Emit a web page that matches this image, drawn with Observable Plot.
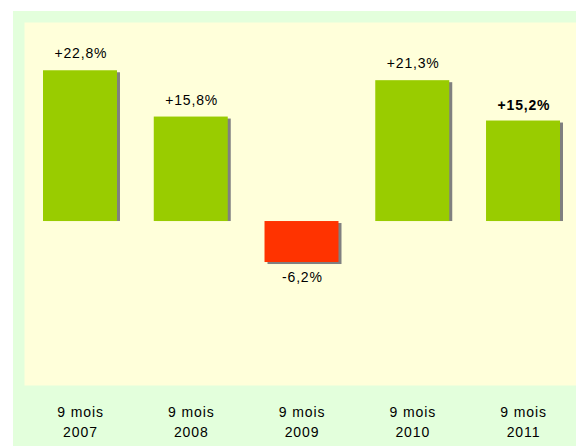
<!DOCTYPE html>
<html>
<head>
<meta charset="utf-8">
<script src="https://cdn.jsdelivr.net/npm/d3@7"></script>
<script src="https://cdn.jsdelivr.net/npm/@observablehq/plot@0.6"></script>
<style>
  html, body { margin: 0; padding: 0; background: #ffffff; width: 576px; height: 446px; overflow: hidden; }
  #chart svg { position: absolute; left: 13px; top: 11px; background: #E3FFDC; }
  #chart svg text { letter-spacing: 0.8px; }
  #chart svg [aria-label="x-axis tick label"] text { letter-spacing: 0.9px; }
</style>
</head>
<body>
<div id="chart"></div>
<script>
const periods = ["2007", "2008", "2009", "2010", "2011"];
const growth = [22.8, 15.8, -6.2, 21.3, 15.2];
const valueLabels = ["+22,8%", "+15,8%", "-6,2%", "+21,3%", "+15,2%"];
const tickLabels = ["9 mois\n2007", "9 mois\n2008", "9 mois\n2009", "9 mois\n2010", "9 mois\n2011"];
const highlighted = ["2011"];

const data = periods.map((p, i) => ({
  period: p,
  value: growth[i],
  label: valueLabels[i],
  bold: highlighted.includes(p)
}));
const pos = data.filter(d => d.value >= 0);
const neg = data.filter(d => d.value < 0);
const tickMap = new Map(periods.map((p, i) => [p, tickLabels[i]]));

const chart = Plot.plot({
  width: 563,
  height: 435,
  marginTop: 11,
  marginLeft: 11,
  marginRight: 0,
  marginBottom: 61,
  style: { fontFamily: "'Liberation Sans', Arial, sans-serif", background: "#E3FFDC", color: "#000" },
  x: { domain: periods, paddingInner: 0.332, paddingOuter: 0.158, align: 0.543, round: false, label: null },
  y: { domain: [-24.8, 30.1], axis: null },
  marks: [
    Plot.frame({ fill: "#FFFFDA", stroke: "none" }),
    Plot.rectY(pos, { x: "period", y: "value", fill: "#808080", dx: 3, dy: 2, insetBottom: 2 }),
    Plot.rectY(neg, { x: "period", y: "value", fill: "#808080", dx: 3, dy: 2 }),
    Plot.rectY(data, { x: "period", y: "value", fill: d => d.value >= 0 ? "#99CC00" : "#FF3300" }),
    Plot.text(pos.filter(d => !d.bold), { x: "period", y: "value", text: "label", lineAnchor: "bottom", dy: -12.5, dx: 0.4, fontSize: 14, fill: "#000" }),
    Plot.text(pos.filter(d => d.bold), { x: "period", y: "value", text: "label", lineAnchor: "bottom", dy: -11.5, dx: 0.4, fontSize: 14, fontWeight: "bold", fill: "#000" }),
    Plot.text(neg, { x: "period", y: "value", text: "label", lineAnchor: "top", dy: 10, dx: 0.4, fontSize: 14, fill: "#000" }),
    Plot.axisX({ tickSize: 0, tickPadding: 18, fontSize: 14, lineHeight: 1.39, tickFormat: p => tickMap.get(p), label: null, fill: "#000" })
  ]
});
document.getElementById("chart").appendChild(chart);
</script>
</body>
</html>
